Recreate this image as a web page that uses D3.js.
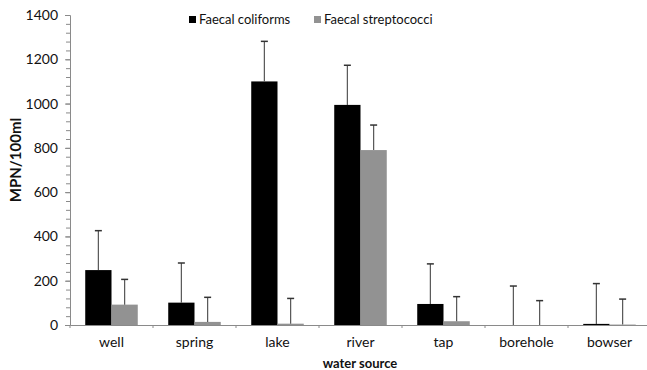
<!DOCTYPE html>
<html>
<head>
<meta charset="utf-8">
<script src="https://cdn.jsdelivr.net/npm/d3@7"></script>
<style>
  body { margin: 0; background: #fff; }
  svg text { font-family: Lato, "Open Sans", sans-serif; fill: #111; }
</style>
</head>
<body>
<svg id="chart"></svg>
<script>
// data
const sources = ['well', 'spring', 'lake', 'river', 'tap', 'borehole', 'bowser']
const seriesNames = ['Faecal coliforms', 'Faecal streptococci']
const coliforms = [248, 101, 1100, 994, 95, 0, 5]
const coliformsErr = [178, 179, 181, 179, 181, 176, 182]
const strepto = [92, 14, 6, 790, 17, 0, 2]
const streptoErr = [114, 111, 114, 113, 111, 110, 115]
const yTicks = [0, 200, 400, 600, 800, 1000, 1200, 1400]

const width = 647
const height = 370
const margin = { left: 70, right: -4, top: 15, bottom: 45 }

const svg = d3.select('svg#chart').attr('width', width).attr('height', height)

const rows = sources.map((s, i) => ({
  source: s,
  vals: [
    { key: seriesNames[0], v: coliforms[i], e: coliformsErr[i] },
    { key: seriesNames[1], v: strepto[i], e: streptoErr[i] }
  ]
}))

const x0 = d3.scaleBand().domain(sources).range([margin.left, width - margin.right]).padding(0)
const x1 = d3.scaleBand().domain(seriesNames).range([0, x0.bandwidth()]).paddingInner(0).paddingOuter(0.58)
const y = d3.scaleLinear().domain([0, 1400]).range([height - margin.bottom, margin.top])
const color = d3.scaleOrdinal().domain(seriesNames).range(['#000000', '#929292'])

const axisColor = '#8a8a8a'

// y axis with minor ticks every 40
const yAxis = svg.append('g').attr('transform', 'translate(' + margin.left + ',0)')
  .call(d3.axisLeft(y).tickValues(d3.range(0, 1401, 40)).tickSize(4).tickFormat(''))
yAxis.select('.domain').attr('stroke', axisColor)
yAxis.selectAll('.tick line').attr('stroke', axisColor)

const yMajor = svg.append('g').attr('transform', 'translate(' + margin.left + ',0)')
  .call(d3.axisLeft(y).tickValues(yTicks).tickSize(5).tickPadding(7).tickFormat(d3.format('d')))
yMajor.select('.domain').remove()
yMajor.selectAll('.tick line').attr('stroke', axisColor)
yMajor.selectAll('.tick text').attr('font-size', 14).style('font-family', 'Lato, sans-serif').attr('fill', '#222')

// x axis
const xAxis = svg.append('g').attr('transform', 'translate(0,' + y(0) + ')')
  .call(d3.axisBottom(x0).tickSize(0).tickPadding(12))
xAxis.select('.domain').attr('stroke', axisColor)
xAxis.selectAll('.tick text').attr('font-size', 14).attr('fill', '#222')
xAxis.selectAll('.sep').data(sources).enter().append('line').attr('class', 'sep')
  .attr('x1', d => x0(d)).attr('x2', d => x0(d)).attr('y1', 0).attr('y2', 3)
  .attr('stroke', axisColor)

// bars
const groups = svg.append('g').selectAll('g').data(rows).enter().append('g')
  .attr('transform', d => 'translate(' + x0(d.source) + ',0)')

groups.selectAll('rect').data(d => d.vals).enter().append('rect')
  .attr('x', d => x1(d.key))
  .attr('width', x1.bandwidth())
  .attr('y', d => y(d.v))
  .attr('height', d => y(0) - y(d.v))
  .attr('fill', d => color(d.key))

// error bars (upward only)
groups.selectAll('line.err').data(d => d.vals).enter().append('line').attr('class', 'err')
  .attr('x1', d => x1(d.key) + x1.bandwidth() / 2)
  .attr('x2', d => x1(d.key) + x1.bandwidth() / 2)
  .attr('y1', d => y(d.v))
  .attr('y2', d => y(d.v + d.e))
  .attr('stroke', '#555').attr('stroke-width', 1.2)
groups.selectAll('line.cap').data(d => d.vals).enter().append('line').attr('class', 'cap')
  .attr('x1', d => x1(d.key) + x1.bandwidth() / 2 - 3.5)
  .attr('x2', d => x1(d.key) + x1.bandwidth() / 2 + 3.5)
  .attr('y1', d => y(d.v + d.e))
  .attr('y2', d => y(d.v + d.e))
  .attr('stroke', '#333').attr('stroke-width', 1.5)

// axis titles
svg.append('text').attr('transform', 'translate(21,160) rotate(-90)')
  .attr('text-anchor', 'middle').attr('font-size', 15).attr('font-weight', 'bold')
  .text('MPN/100ml')
svg.append('text').attr('x', 360).attr('y', 368)
  .attr('text-anchor', 'middle').attr('font-size', 13).attr('font-weight', 'bold')
  .text('water source')

// legend
const legendX = [189, 314]
const legend = svg.append('g').selectAll('g').data(seriesNames).enter().append('g')
  .attr('transform', (d, i) => 'translate(' + legendX[i] + ',16)')
legend.append('rect').attr('width', 7).attr('height', 7).attr('fill', d => color(d))
legend.append('text').attr('x', 10).attr('y', 8).attr('font-size', 13).attr('fill', '#222').text(d => d)
</script>
</body>
</html>
